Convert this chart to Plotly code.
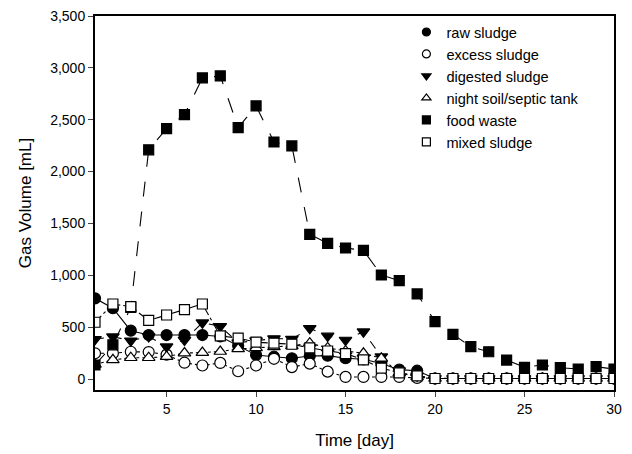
import plotly.graph_objects as go

days = list(range(1, 31))

raw_sludge = [778, 682, 466, 424, 424, 424, 424, 410, 320, 231, 215, 200, 222, 225, 200, 190, 150, 90, 80,
              5, 5, 5, 5, 5, 5, 5, 5, 5, 5, 5]
excess_sludge = [248, 248, 263, 260, 235, 157, 130, 155, 75, 130, 195, 115, 148, 71, 20, 20, 20, 20, 10,
                 5, 5, 5, 5, 5, 5, 5, 5, 5, 5, 5]
digested_sludge = [383, 408, 369, 410, 312, 376, 543, 508, 350, 370, 390, 385, 489, 415, 376, 456, 215, 80, 30,
                   5, 5, 5, 5, 5, 5, 5, 5, 5, 5, 5]
night_soil = [140, 185, 205, 205, 215, 250, 255, 265, 290, 300, 310, 320, 345, 300, 270, 248, 200, 60, 20,
              5, 5, 5, 5, 5, 5, 5, 5, 5, 5, 5]
food_waste = [135, 330, 690, 2210, 2414, 2549, 2903, 2922, 2424, 2633, 2285, 2247, 1395, 1308, 1263, 1240,
              1003, 948, 820, 553, 431, 312, 263, 183, 113, 135, 109, 96, 119, 96]
mixed_sludge = [547, 723, 697, 565, 617, 668, 723, 415, 395, 355, 345, 335, 300, 270, 245, 185, 105, 60, 30,
                5, 5, 5, 5, 5, 5, 5, 5, 5, 5, 5]

series = [
    ("raw sludge", raw_sludge, "circle", "black", "solid", 11),
    ("excess sludge", excess_sludge, "circle", "white", "dot", 11),
    ("digested sludge", digested_sludge, "triangle-down", "black", "dash", 11),
    ("night soil/septic tank", night_soil, "triangle-up", "white", "dot", 11),
    ("food waste", food_waste, "square", "black", "longdash", 10),
    ("mixed sludge", mixed_sludge, "square", "white", "dashdot", 10),
]

fig = go.Figure()
for name, vals, sym, fill, dash, size in series:
    fig.add_trace(go.Scatter(
        x=days, y=vals, mode="lines+markers", name=name, showlegend=False,
        line=dict(color="black", width=1.1, dash=dash),
        marker=dict(symbol=sym, size=size, color=fill, line=dict(color="black", width=1.2)),
    ))
for name, vals, sym, fill, dash, size in series:
    fig.add_trace(go.Scatter(
        x=[None], y=[None], mode="markers", name=name, showlegend=True,
        marker=dict(symbol=sym, size=8, color=fill, line=dict(color="black", width=1.2)),
    ))

font_family = "Liberation Sans, Arial, sans-serif"
fig.update_layout(
    width=632, height=454,
    margin=dict(l=95, r=18, t=16, b=64),
    paper_bgcolor="white", plot_bgcolor="white",
    font=dict(family=font_family, color="black", size=14),
    showlegend=True,
    legend=dict(x=0.6, y=1.0, xanchor="left", yanchor="top", bgcolor="rgba(0,0,0,0)",
                font=dict(size=14.6, family=font_family), tracegroupgap=0, itemsizing="trace"),
    xaxis=dict(range=[1, 30], tickvals=[5, 10, 15, 20, 25, 30], ticks="outside", ticklen=5,
               tickwidth=1.2, showline=True, linecolor="black", linewidth=2, mirror=True,
               showgrid=False, zeroline=False, automargin=False,
               title=dict(text="Time [day]", font=dict(size=17), standoff=18),
               tickfont=dict(size=14)),
    yaxis=dict(range=[-106, 3500], tickvals=[0, 500, 1000, 1500, 2000, 2500, 3000, 3500],
               tickformat=",", ticks="outside", ticklen=5, tickwidth=1.2,
               showline=True, linecolor="black", linewidth=2, mirror=True,
               showgrid=False, zeroline=False, automargin=False,
               title=dict(text="Gas Volume [mL]", font=dict(size=17), standoff=14),
               tickfont=dict(size=14)),
)

fig.write_html("out.html", config={"displayModeBar": False},
               post_script="document.body.style.margin='0px';document.body.style.padding='0px';")
